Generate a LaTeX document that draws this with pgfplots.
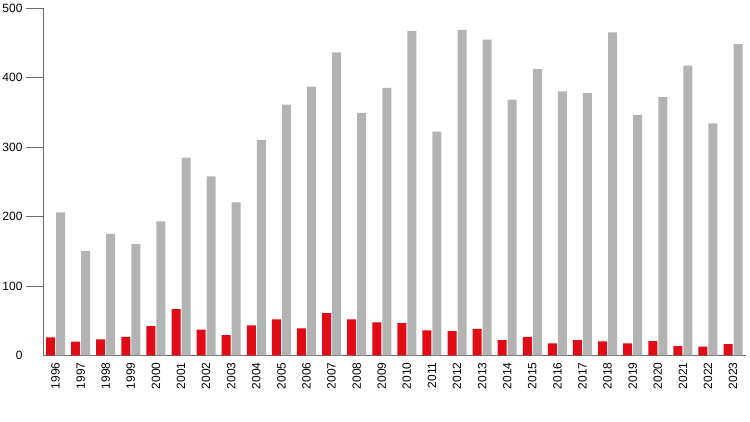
\documentclass[border=0pt]{standalone}
\usepackage{pgfplots}
\pgfplotsset{compat=1.18}
\usepackage{fontspec}
\setmainfont{Liberation Sans}
\definecolor{barred}{HTML}{E00B14}
\definecolor{bargray}{HTML}{B3B3B3}
\definecolor{axgray}{HTML}{6E6E6E}
\begin{document}
\begin{tikzpicture}
\path[use as bounding box] (-43pt,-66.6pt) rectangle (707pt,355.4pt);
\begin{axis}[
  at={(0,0)}, anchor=south west,
  scale only axis, width=702.6pt, height=347.4pt,
  xmin=-0.5, xmax=27.5, ymin=0, ymax=500,
  enlarge x limits=false, enlarge y limits=false,
  axis x line*=bottom, axis y line*=left,
  axis line style={axgray, line width=0.8pt},
  ybar, bar width=9pt,
  xtick={0,...,27},
  xticklabel={\pgfmathtruncatemacro\yr{\tick+1996}\yr},
  x tick style={draw=none},
  xticklabel shift=-13.5pt,
  x tick label style={rotate=90, anchor=east, font=\fontsize{12}{14}\selectfont},
  ytick={100,200,...,500},
  extra y ticks={0},
  extra y tick style={tick style={draw=none}},
  y tick style={axgray, line width=0.8pt},
  major tick length=17pt,
  tick align=outside,
  y tick label style={font=\fontsize{12}{14}\selectfont},
  /pgf/number format/assume math mode=true,
  clip=false,
]
\addplot[fill=barred, draw=none, bar shift=-5pt] coordinates {
(0,26) (1,20) (2,23) (3,26.5) (4,42) (5,66.5) (6,37) (7,29)
(8,43.3) (9,52) (10,39) (11,61) (12,52) (13,47.6) (14,46.6) (15,36)
(16,35) (17,38) (18,22) (19,26.5) (20,17.4) (21,22) (22,20.3) (23,17.4)
(24,20.7) (25,13.5) (26,12.5) (27,16.4)};
\addplot[fill=bargray, draw=none, bar shift=5pt] coordinates {
(0,206) (1,150) (2,175) (3,160) (4,193) (5,284.6) (6,257.8) (7,220.4)
(8,309.7) (9,361) (10,387) (11,436) (12,349) (13,385) (14,467) (15,322)
(16,468.5) (17,454.5) (18,368) (19,412) (20,380) (21,378) (22,465) (23,346)
(24,372) (25,417) (26,334) (27,448)};
\end{axis}
\end{tikzpicture}
\end{document}
